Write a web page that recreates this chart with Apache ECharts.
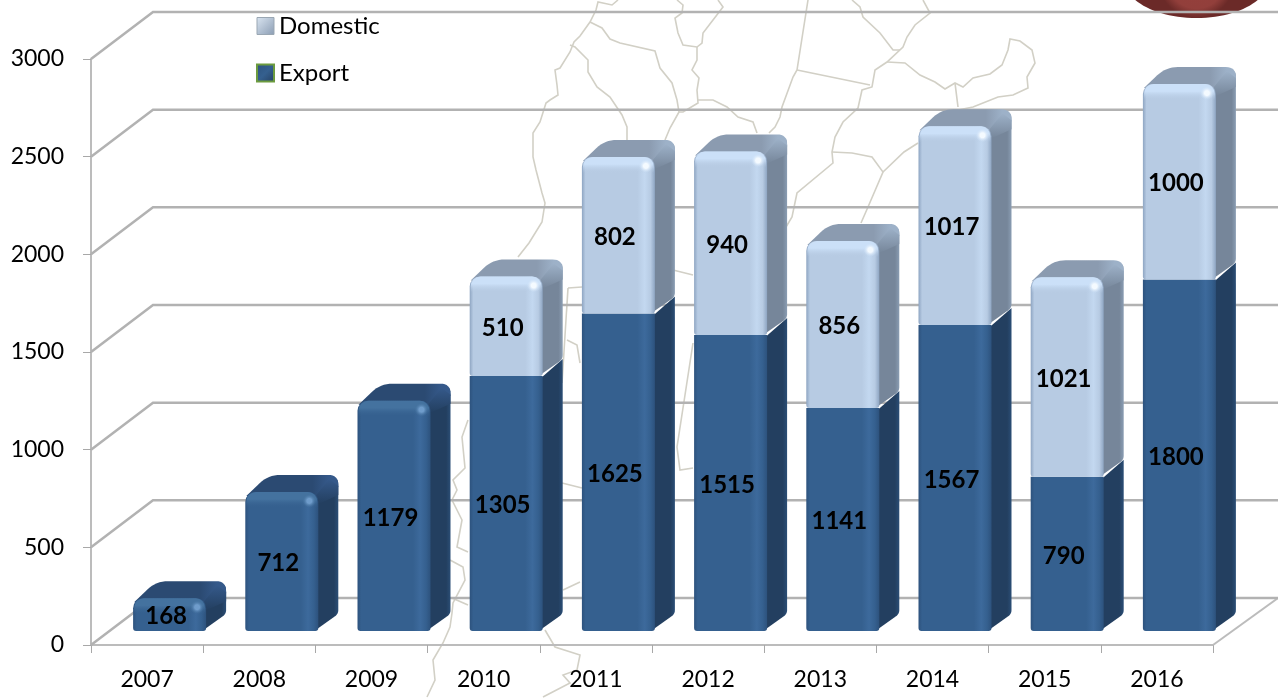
<!DOCTYPE html>
<html><head><meta charset="utf-8">
<style>html,body{margin:0;padding:0;background:#fff}#c{width:1278px;height:698px}</style>
<script src="https://cdn.jsdelivr.net/npm/echarts@6/dist/echarts.min.js"></script>
</head><body><div id="c"></div>
<script>
var years=['2007','2008','2009','2010','2011','2012','2013','2014','2015','2016'];
var exportValues=[168,712,1179,1305,1625,1515,1141,1567,790,1800];
var domesticValues=[null,null,null,510,802,940,856,1017,1021,1000];
var yTicks=[0,500,1000,1500,2000,2500,3000];
var mapLines=[
[[618,0],[612,5],[598,2],[596,10],[590,22],[580,36],[574,42],[570,52],[560,68],[555,70],[557,85],[558,95],[550,100],[546,103],[540,122],[533,133],[533,157],[536,170],[542,193],[545,203],[542,222],[529,243],[518,257]],
[[590,22],[602,28],[610,39],[620,43],[655,51],[660,68],[672,83],[677,100],[679,112],[670,128],[665,140]],
[[570,45],[575,47],[588,60],[588,72],[597,87],[610,97],[622,115],[627,127],[627,140]],
[[677,0],[683,5],[682,13],[675,18],[678,33],[683,45],[697,47],[702,43],[703,33],[713,20],[723,7],[718,0]],
[[697,47],[697,60],[692,70],[699,78],[697,90],[698,103],[683,112],[679,112]],
[[698,100],[713,100],[727,107],[738,117],[753,122],[757,133]],
[[808,0],[797,70],[793,77],[782,107],[780,117],[775,127],[769,133]],
[[797,70],[870,85]],
[[852,0],[860,7],[863,17],[880,33],[893,50],[900,50]],
[[923,0],[930,13],[915,25],[907,37],[903,47],[887,62],[875,70],[872,87],[862,90],[858,108],[843,122],[835,137],[832,152],[833,163],[797,193],[792,217],[786,227]],
[[832,152],[852,153],[872,157],[883,172],[868,207],[861,223]],
[[883,172],[904,152],[918,143]],
[[887,62],[905,63],[920,75],[935,82],[945,89],[955,83],[963,87],[973,78],[990,74],[1002,65],[1008,50],[1010,39],[1020,41],[1032,50],[1035,63],[1027,77],[1028,88],[1013,95],[998,97],[973,107],[958,110]],
[[955,83],[958,107]],
[[568,288],[582,287]],[[568,288],[562,383]],[[567,340],[577,345],[580,363]],[[562,483],[582,488]],[[563,590],[580,582]],
[[673,270],[693,275]],[[693,343],[677,447],[680,470],[693,468]],
[[468,420],[462,437],[465,468],[453,480],[457,490],[452,500],[462,520],[457,547],[468,552]],
[[450,560],[463,567],[465,580],[453,603],[452,613],[450,627],[443,643],[433,660],[435,680],[427,697]],
[[452,598],[468,605]],
[[545,630],[555,647],[580,655],[577,670],[563,675],[570,683],[543,697]]
];

var DX=20,DY=17,LIFT=14,BAR_W=73,OFF=-14;
var palettes={
 Export:{edge:'#2d527d',front:'#35608f',glow:'#3d6a9c',hi:'#44729f',side:'#233f60',sideHi:'#2b4e76',top:'#2b4a72',topHi:'#35598a',spec:'#6f9ccb',clear:'rgba(53,96,143,0)',specClear:'rgba(68,114,159,0)'},
 Domestic:{edge:'#8ea5c2',front:'#b7cbe3',glow:'#c3d8f0',hi:'#cbe0f8',side:'#76869a',sideHi:'#8a9db3',top:'#8b9bb0',topHi:'#9db1c8',spec:'#f4faff',clear:'rgba(183,203,227,0)',specClear:'rgba(203,224,248,0)'}
};
function lin(x0,y0,x1,y1,stops){return new echarts.graphic.LinearGradient(x0,y0,x1,y1,stops);}
function roundPoly(pts,radii){
 var out=[],n=pts.length;
 for(var i=0;i<n;i++){
  var r=radii[i],p=pts[i],a=pts[(i+n-1)%n],b=pts[(i+1)%n];
  if(!r){out.push(p);continue;}
  var la=Math.hypot(a[0]-p[0],a[1]-p[1]),lb=Math.hypot(b[0]-p[0],b[1]-p[1]);
  var s=[p[0]+(a[0]-p[0])*r/la,p[1]+(a[1]-p[1])*r/la],e=[p[0]+(b[0]-p[0])*r/lb,p[1]+(b[1]-p[1])*r/lb];
  for(var t=0;t<=8;t++){var u=t/8,v=1-u;out.push([v*v*s[0]+2*v*u*p[0]+u*u*e[0],v*v*s[1]+2*v*u*p[1]+u*u*e[1]]);}
 }
 return out;
}
function barRender(name,values,bases){
 return function(params,api){
  var i=api.value(0),val=api.value(1);
  if(val==null||isNaN(val))return null;
  var base=bases?bases[i]:0;
  var c=palettes[name];
  var tp=api.coord([i,base+val]),bp=api.coord([i,base]);
  var x0=tp[0]+OFF,x1=x0+BAR_W,yt=tp[1]-LIFT,yb=bp[1]-LIFT;
  var capped=name==='Domestic'||domesticValues[i]==null;
  var kids=[];
  // right side face
  kids.push({type:'polygon',shape:{points:roundPoly([[x1-4,yt+4],[x1+DX,yt-DY],[x1+DX,yb-DY],[x1-4,yb]],[0,capped?10:0,4,0])},
   style:{fill:lin(0,0,1,0,[{offset:0,color:c.side},{offset:.82,color:c.side},{offset:1,color:c.sideHi}])}});
  if(capped){
   // top face with its soft bevel along the right-hand edge
   kids.push({type:'polygon',shape:{points:roundPoly([[x0+1,yt+4],[x0+DX+3,yt-DY],[x1+DX,yt-DY],[x1+DX,yt-DY+12],[x1,yt+8]],[0,12,10,0,0])},
    style:{fill:lin(0,0,1,0,[{offset:0,color:c.top},{offset:.72,color:c.top},{offset:.9,color:c.topHi},{offset:1,color:c.topHi}])}});
   kids.push({type:'polygon',shape:{points:[[x1-2,yt+3],[x1+DX-9,yt-DY+4],[x1+DX,yt-DY+11],[x1+DX,yt-DY+20],[x1,yt+12]]},
    style:{fill:lin(0,0,0,1,[{offset:0,color:c.topHi},{offset:1,color:c.side}])}});
  }
  // front face
  kids.push({type:'rect',shape:{x:x0,y:yt,width:BAR_W,height:yb-yt,r:capped?[10,10,3,3]:[0,0,3,3]},
   style:{fill:lin(0,0,1,0,[{offset:0,color:c.edge},{offset:.05,color:c.front},{offset:.76,color:c.front},{offset:.86,color:c.glow},{offset:.94,color:c.front},{offset:1,color:c.edge}])}});
  if(capped){
   kids.push({type:'rect',shape:{x:x0+1,y:yt,width:BAR_W-2,height:16,r:[10,10,0,0]},
    style:{fill:lin(0,0,0,1,[{offset:0,color:c.hi},{offset:.45,color:c.hi},{offset:1,color:c.clear}])}});
   kids.push({type:'circle',shape:{cx:x1-9,cy:yt+9,r:7},
    style:{fill:new echarts.graphic.RadialGradient(.5,.5,.5,[{offset:0,color:c.spec},{offset:.35,color:c.spec},{offset:1,color:c.specClear}])}});
  }
  kids.push({type:'text',z2:50,style:{text:String(val),x:x0+BAR_W/2-3.5,y:(yt+yb)/2+2,align:'center',verticalAlign:'middle',
   font:'bold 24px Lato',fill:'#000'}});
  return {type:'group',children:kids};
 };
}
function wallRender(params,api){
 var v=api.value(0),p=api.coord([0,v]),cs=params.coordSys;
 var L=cs.x,R=cs.x+cs.width,wx=62,wy=47,y=p[1];
 var kids=[];
 if(v===0){
  kids.push({type:'line',shape:{x1:R,y1:y,x2:R+65,y2:y-wy},style:{stroke:'#bcbcbc',lineWidth:2}});
 }
 kids.push({type:'polyline',shape:{points:[[L,y],[L+wx,y-wy],[R+65,y-wy]]},style:{fill:null,stroke:'#b2b2b2',lineWidth:2.5}});
 return {type:'group',children:kids};
}
var chart=echarts.init(document.getElementById('c'),null,{renderer:'canvas'});
var mapGraphics=mapLines.map(function(l){return {type:'polyline',z:0,silent:true,shape:{points:l},style:{fill:null,stroke:'#d2d0c6',lineWidth:1.6}};});
mapGraphics.push({type:'ellipse',z:0,silent:true,shape:{cx:1196.5,cy:-20,rx:72,ry:38},
 style:{fill:new echarts.graphic.RadialGradient(.5,.5,.5,[{offset:0,color:'#96403c'},{offset:.75,color:'#923f3b'},{offset:1,color:'#6b2a28'}])}});
chart.setOption({
 animation:false,backgroundColor:'#fff',
 textStyle:{fontFamily:'Lato'},
 graphic:{elements:mapGraphics},
 grid:{left:91,right:65,top:59,bottom:53,containLabel:false},
 legend:{orient:'vertical',left:251,top:9,itemWidth:17,itemHeight:17,itemGap:23,selectedMode:false,
  textStyle:{fontFamily:'Lato',fontSize:24,color:'#000'},
  data:[
   {name:'Domestic',icon:'rect',itemStyle:{color:lin(0,0,1,1,[{offset:0,color:'#dbe6f2'},{offset:1,color:'#8a9cb3'}]),borderColor:'#9aa7b3',borderWidth:1}},
   {name:'Export',icon:'rect',itemStyle:{color:lin(0,0,1,1,[{offset:0,color:'#2d527d'},{offset:.5,color:'#35608f'},{offset:1,color:'#243f60'}]),borderColor:'#6c9b3f',borderWidth:2}}
  ]},
 xAxis:{type:'category',data:years,boundaryGap:true,
  axisLine:{lineStyle:{color:'#bcbcbc',width:2}},
  axisTick:{show:true,length:8,alignWithLabel:false,lineStyle:{color:'#a8a8a8',width:1}},
  axisLabel:{color:'#000',fontSize:23,fontFamily:'Lato',margin:23,interval:0},splitLine:{show:false}},
 yAxis:{type:'value',min:0,max:3000,interval:500,
  axisLine:{show:true,lineStyle:{color:'#bcbcbc',width:2}},
  axisTick:{show:true,length:8,lineStyle:{color:'#a8a8a8',width:1}},
  axisLabel:{color:'#000',fontSize:23,fontFamily:'Lato',margin:27,padding:[5,0,0,0],formatter:function(v){return String(v);}},splitLine:{show:false}},
 series:[
  {type:'custom',name:'walls',z:1,silent:true,coordinateSystem:'cartesian2d',clip:false,data:yTicks.map(function(v){return [v];}),encode:{y:0},renderItem:wallRender},
  {type:'custom',name:'Export',z:3,clip:false,coordinateSystem:'cartesian2d',data:exportValues.map(function(v,i){return [i,v];}),encode:{x:0,y:1},renderItem:barRender('Export',exportValues,null)},
  {type:'custom',name:'Domestic',z:4,clip:false,coordinateSystem:'cartesian2d',data:domesticValues.map(function(v,i){return [i,v];}),encode:{x:0,y:1},renderItem:barRender('Domestic',domesticValues,exportValues)}
 ]
});
</script></body></html>
